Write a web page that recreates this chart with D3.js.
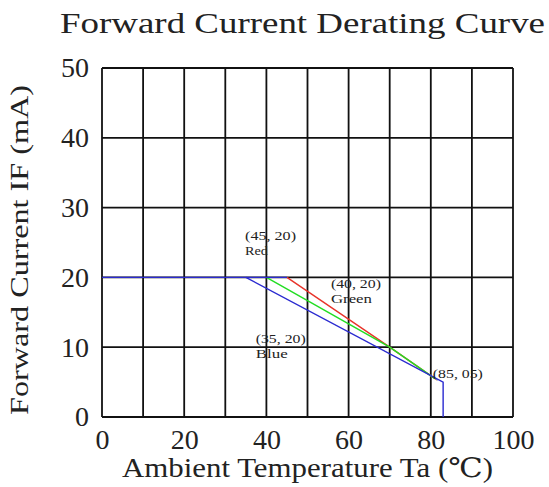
<!DOCTYPE html>
<html>
<head>
	<title>Forward Current Derating Curve</title>
	<meta charset="utf-8">
	<script src="https://d3js.org/d3.v7.min.js"></script>
	<style>
		body { margin: 0; background: #fff; }
		text { font-family: "Liberation Serif", "DejaVu Serif", serif; fill: #222; }
	</style>
</head>
<body>
	<script type="text/javascript">
		var width = 549,
			height = 487;

		// data
		var xTicks = [0, 20, 40, 60, 80, 100];
		var yTicks = [0, 10, 20, 30, 40, 50];
		var flatLine = [[0, 20], [45, 20]];
		var redLine = [[45, 20], [70, 10], [81, 5.5]];
		var greenLine = [[40, 20], [70, 10], [81, 5.5]];
		var blueLine = [[35, 20], [83, 5], [83, 0]];
		// label anchor (data units), text, width in px
		var notes = [
			{ x: 34.8, y: 25.3, lines: [["(45, 20)", 51], ["Red", 23]] },
			{ x: 55.7, y: 18.5, lines: [["(40, 20)", 50], ["Green", 41]] },
			{ x: 37.4, y: 10.6, lines: [["(35, 20)", 50], ["Blue", 32]] },
			{ x: 80.5, y: 5.6, lines: [["(85, 05)", 50]] }
		];

		var margin = { left: 102, right: 36, top: 68, bottom: 70 };

		var svg = d3.select("body").append("svg")
			.attr("width", width)
			.attr("height", height);

		var xScale = d3.scaleLinear().domain([0, 100]).range([margin.left, width - margin.right]);
		var yScale = d3.scaleLinear().domain([0, 50]).range([height - margin.bottom, margin.top]);

		// title
		svg.append("text")
			.attr("x", 60).attr("y", 33)
			.attr("textLength", 485).attr("lengthAdjust", "spacingAndGlyphs")
			.style("font-size", "29px")
			.text("Forward Current Derating Curve");

		// grid, every 10 units
		var grid = svg.append("g").attr("stroke", "#111").attr("stroke-width", 1.8);
		grid.selectAll("line.v")
			.data(d3.range(0, 101, 10))
			.enter().append("line")
			.attr("x1", d => xScale(d)).attr("x2", d => xScale(d))
			.attr("y1", yScale(0)).attr("y2", yScale(50));
		grid.selectAll("line.h")
			.data(d3.range(0, 51, 10))
			.enter().append("line")
			.attr("x1", xScale(0)).attr("x2", xScale(100))
			.attr("y1", d => yScale(d)).attr("y2", d => yScale(d));

		// axes (labels only)
		var xAxis = d3.axisBottom(xScale).tickValues(xTicks).tickSize(0).tickPadding(12);
		var yAxis = d3.axisLeft(yScale).tickValues(yTicks).tickSize(0).tickPadding(13);

		svg.append("g")
			.attr("transform", "translate(0," + yScale(0) + ")")
			.call(xAxis)
			.call(g => g.select(".domain").remove())
			.selectAll("text")
			.style("font-size", "28px").style("font-family", "Liberation Serif, serif").attr("fill", "#222");

		svg.append("g")
			.attr("transform", "translate(" + xScale(0) + ",0)")
			.call(yAxis)
			.call(g => g.select(".domain").remove())
			.selectAll("text")
			.style("font-size", "28px").style("font-family", "Liberation Serif, serif").attr("fill", "#222");

		// axis titles
		svg.append("text")
			.attr("x", 122).attr("y", 477)
			.attr("textLength", 371).attr("lengthAdjust", "spacingAndGlyphs")
			.style("font-size", "27px")
			.text("Ambient Temperature Ta (\u2103)");

		svg.append("text")
			.attr("transform", "translate(28,415) rotate(-90)")
			.attr("textLength", 330).attr("lengthAdjust", "spacingAndGlyphs")
			.style("font-size", "25px")
			.text("Forward Current IF (mA)");

		// curves
		var line = d3.line().x(d => xScale(d[0])).y(d => yScale(d[1]));

		svg.append("path").datum(redLine)
			.attr("d", line).attr("fill", "none").attr("stroke", "#e8332a").attr("stroke-width", 1.4);
		svg.append("path").datum(greenLine)
			.attr("d", line).attr("fill", "none").attr("stroke", "#22dd22").attr("stroke-width", 1.4);
		svg.append("path").datum(blueLine)
			.attr("d", line).attr("fill", "none").attr("stroke", "#2a2ad0").attr("stroke-width", 1.4);
		svg.append("path").datum(flatLine)
			.attr("d", line).attr("fill", "none").attr("stroke", "#2a2ad0").attr("stroke-width", 1.4);

		// point notes
		notes.forEach(function(n) {
			n.lines.forEach(function(s, i) {
				svg.append("text")
					.attr("x", xScale(n.x))
					.attr("y", yScale(n.y) + i * 15)
					.attr("textLength", s[1]).attr("lengthAdjust", "spacingAndGlyphs")
					.style("font-size", "13px")
					.text(s[0]);
			});
		});
	</script>
</body>
</html>
